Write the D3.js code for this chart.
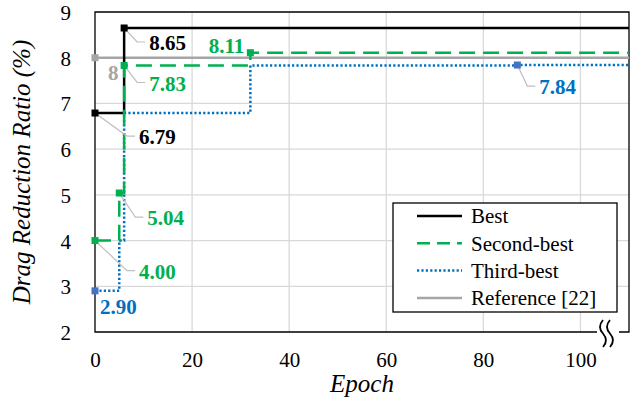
<!DOCTYPE html>
<html>
<head>
<meta charset="utf-8">
<script src="https://cdn.jsdelivr.net/npm/d3@7"></script>
<style>
  body { margin: 0; background: #fff; }
</style>
</head>
<body>
<div id="chart"></div>
<script>
// data
const xTicks = [0, 20, 40, 60, 80, 100];
const yTicks = [2, 3, 4, 5, 6, 7, 8, 9];
const xMax = 110;

const seriesNames = ["Best", "Second-best", "Third-best", "Reference [22]"];
const bestEpochs = [0, 6];
const bestValues = [6.79, 8.65];
const secondEpochs = [0, 5, 6, 32];
const secondValues = [4.0, 5.04, 7.83, 8.11];
const thirdEpochs = [0, 5, 6, 32, 87];
const thirdValues = [2.9, 4.0, 6.79, 7.83, 7.84];
const referenceEpochs = [0];
const referenceValues = [8];

// which points get a marker + value label
const bestMarked = [0, 1];
const secondMarked = [0, 1, 2, 3];
const thirdMarked = [0, 4];
const referenceMarked = [0];

// styling
const serif = "\"Liberation Serif\"";
const colors = ["#000000", "#00B050", "#0070C0", "#A6A6A6"];
const markerColors = ["#000000", "#00B050", "#4472C4", "#A6A6A6"];
const dashes = [null, "16,8", "2.2,2.2", null];

// label placement relative to marker: [dx, dy, anchor, leader]
const labelPlacement = {
  "0-0": [44, 24, "start", true],
  "0-1": [25, 15, "start", true],
  "1-0": [44, 31, "start", true],
  "1-1": [28, 25, "start", true],
  "1-2": [25, 18, "start", true],
  "1-3": [-6, -7, "end", false],
  "2-0": [5, 16, "start", false],
  "2-4": [22, 22, "start", true],
  "3-0": [13, 15, "start", false]
};

const margin = { top: 12, right: 9, bottom: 68, left: 95 },
  width = 638 - margin.left - margin.right,
  height = 400 - margin.top - margin.bottom;

const svg = d3
  .select("#chart")
  .append("svg")
  .attr("width", 638)
  .attr("height", 400)
  .append("g")
  .attr("transform", `translate(${margin.left}, ${margin.top})`);

const x = d3.scaleLinear().domain([0, xMax]).range([0, width]);
const y = d3.scaleLinear().domain([2, 9]).range([height, 0]);

// gridlines
svg.append("g")
  .selectAll("line")
  .data(yTicks.slice(1, -1))
  .join("line")
  .attr("x1", 0).attr("x2", width)
  .attr("y1", (d) => y(d)).attr("y2", (d) => y(d))
  .style("stroke", "#d9d9d9").style("stroke-width", 1.3);
svg.append("g")
  .selectAll("line")
  .data(xTicks.slice(1))
  .join("line")
  .attr("x1", (d) => x(d)).attr("x2", (d) => x(d))
  .attr("y1", 0).attr("y2", height)
  .style("stroke", "#d9d9d9").style("stroke-width", 1.3);

// axes (labels only)
const yAxis = svg.append("g")
  .call(d3.axisLeft(y).tickValues(yTicks).tickFormat(d3.format("d")).tickSize(0).tickPadding(24));
yAxis.attr("font-family", serif).attr("font-size", 21);
yAxis.select(".domain").remove();
yAxis.selectAll("text")
  .style("font-family", serif).style("font-size", "21px").style("fill", "#000")
  .attr("dy", "0.36em");

const xAxis = svg.append("g")
  .attr("transform", `translate(0, ${height})`)
  .call(d3.axisBottom(x).tickValues(xTicks).tickFormat(d3.format("d")).tickSize(0).tickPadding(20));
xAxis.attr("font-family", serif).attr("font-size", 21);
xAxis.select(".domain").remove();
xAxis.selectAll("text")
  .style("font-family", serif).style("font-size", "21px").style("fill", "#000");

// frame with axis break
const frame = svg.append("g").style("stroke", "#000").style("stroke-width", 1.3).style("fill", "none");
const breakX = x(xMax) - 26;
frame.append("path")
  .attr("d", `M${breakX - 6},${height} H0 V0 H${width} V${height} H${breakX + 16}`);
[0, 7].forEach((o) => {
  frame.append("path")
    .attr("d", `M${breakX + o},${height - 12} q-6,7 0,13.5 q6,7 0,13.5`)
    .style("stroke-width", 1.8);
});

// series
const series = [
  { epochs: bestEpochs, values: bestValues, marked: bestMarked },
  { epochs: secondEpochs, values: secondValues, marked: secondMarked },
  { epochs: thirdEpochs, values: thirdValues, marked: thirdMarked },
  { epochs: referenceEpochs, values: referenceValues, marked: referenceMarked }
];

const line = d3.line()
  .x((d) => x(d[0]))
  .y((d) => y(d[1]))
  .curve(d3.curveStepAfter);

// draw order: reference, best, third, second
[3, 0, 2, 1].forEach((i) => {
  const s = series[i];
  const pts = s.epochs.map((e, k) => [e, s.values[k]]);
  pts.push([xMax, s.values[s.values.length - 1]]);
  svg.append("path")
    .datum(pts)
    .attr("d", line)
    .style("fill", "none")
    .style("stroke", colors[i])
    .style("stroke-width", 2.5)
    .style("stroke-dasharray", dashes[i]);
});

// markers, leaders and value labels
series.forEach((s, i) => {
  s.marked.forEach((k) => {
    const mx = x(s.epochs[k]), my = y(s.values[k]);
    const p = labelPlacement[`${i}-${k}`];
    const tx = mx + p[0], ty = my + p[1];
    if (p[3]) {
      svg.append("polyline")
        .attr("points", `${mx},${my} ${tx - 12},${ty - 1} ${tx - 4},${ty - 1}`)
        .style("fill", "none").style("stroke", "#bfbfbf").style("stroke-width", 1.2);
    }
    svg.append("rect")
      .attr("x", mx - 3.5).attr("y", my - 3.5)
      .attr("width", 7).attr("height", 7)
      .style("fill", markerColors[i]);
    svg.append("text")
      .attr("x", tx).attr("y", ty)
      .attr("dy", "0.35em")
      .attr("text-anchor", p[2])
      .style("font-family", serif)
      .style("font-size", "21px")
      .style("font-weight", "bold")
      .style("fill", colors[i])
      .text(i === 3 ? String(s.values[k]) : s.values[k].toFixed(2));
  });
});

// axis titles
svg.append("text")
  .attr("transform", `translate(${30 - margin.left}, ${172 - margin.top}) rotate(-90)`)
  .attr("text-anchor", "middle")
  .style("font-family", serif)
  .style("font-size", "25px").style("font-style", "italic")
  .text("Drag Reduction Ratio (%)");
svg.append("text")
  .attr("x", width / 2).attr("y", 392 - margin.top)
  .attr("text-anchor", "middle")
  .style("font-family", serif)
  .style("font-size", "25px").style("font-style", "italic")
  .text("Epoch");

// legend
const legend = svg.append("g").attr("transform", `translate(${393 - margin.left}, ${203 - margin.top})`);
legend.append("rect")
  .attr("width", 224).attr("height", 109)
  .style("fill", "#fff").style("stroke", "#000").style("stroke-width", 1.3);
seriesNames.forEach((name, i) => {
  const ly = 13 + i * 27.3;
  legend.append("line")
    .attr("x1", 24).attr("x2", 69)
    .attr("y1", ly).attr("y2", ly)
    .style("stroke", colors[i]).style("stroke-width", 2.5)
    .style("stroke-dasharray", i === 1 ? "13,7" : dashes[i]);
  legend.append("text")
    .attr("x", 78).attr("y", ly).attr("dy", "0.35em")
    .style("font-family", serif)
    .style("font-size", "21px")
    .text(name);
});
</script>
</body>
</html>
